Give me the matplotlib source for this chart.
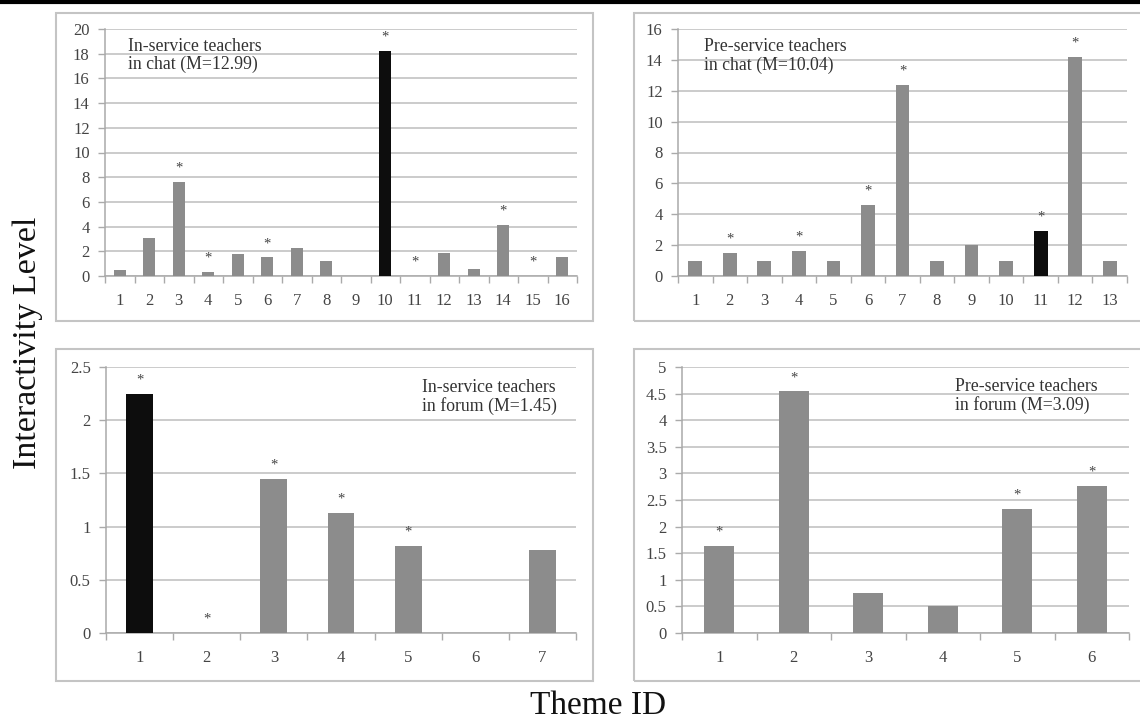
import matplotlib
matplotlib.use("Agg")
import matplotlib.pyplot as plt
from matplotlib.patches import Rectangle
from matplotlib.ticker import FuncFormatter, FixedLocator

# ---- data ----
in_chat_ids = list(range(1, 17))
in_chat_vals = [0.5, 3.1, 7.6, 0.3, 1.75, 1.5, 2.3, 1.2, 0, 18.2, 0, 1.9, 0.6, 4.1, 0, 1.5]
in_chat_star = [3, 4, 6, 10, 11, 14, 15]
in_chat_black = [10]

pre_chat_ids = list(range(1, 14))
pre_chat_vals = [1, 1.5, 1, 1.6, 1, 4.6, 12.4, 1, 2.0, 1, 2.9, 14.2, 1]
pre_chat_star = [2, 4, 6, 7, 11, 12]
pre_chat_black = [11]

in_forum_ids = list(range(1, 8))
in_forum_vals = [2.25, 0, 1.45, 1.13, 0.82, 0, 0.78]
in_forum_star = [1, 2, 3, 4, 5]
in_forum_black = [1]

pre_forum_ids = list(range(1, 7))
pre_forum_vals = [1.63, 4.54, 0.75, 0.51, 2.34, 2.77]
pre_forum_star = [1, 2, 5, 6]
pre_forum_black = []

W, H = 1140, 723
GRAY = "#8c8c8c"
BLACK = "#0d0d0d"
GRID = "#bdbdbd"
SERIF = ["Liberation Serif", "DejaVu Serif"]

plt.rcParams["font.family"] = SERIF

fig = plt.figure(figsize=(W / 100, H / 100), dpi=100)


def px_rect(l, t, r, b):
    return [l / W, 1 - b / H, (r - l) / W, (b - t) / H]


def panel(rect, ids, vals, stars, black, ymax, ystep, label, lx, ly):
    ax = fig.add_axes(px_rect(*rect))
    colors = [BLACK if i in black else GRAY for i in ids]
    ax.bar(ids, vals, width=0.4, color=colors, zorder=3)
    for i, v in zip(ids, vals):
        if i in stars:
            ax.annotate("*", (i, v), xytext=(0, 10), textcoords="offset points",
                        ha="center", va="center", fontsize=10.5, color="#444444")
    ax.set_xlim(0.5, len(ids) + 0.5)
    ax.set_ylim(0, ymax)
    yt = [k * ystep for k in range(int(round(ymax / ystep)) + 1)]
    ax.set_yticks(yt)
    ax.yaxis.set_major_formatter(FuncFormatter(lambda v, p: f"{v:g}"))
    ax.set_xticks(ids)
    ax.set_xticklabels([str(i) for i in ids])
    ax.xaxis.set_minor_locator(FixedLocator([k + 0.5 for k in range(len(ids) + 1)]))
    ax.tick_params(axis="x", which="major", length=0, pad=12,
                   labelsize=12, labelcolor="#444444")
    ax.tick_params(axis="x", which="minor", length=5, color="#aaaaaa", width=1)
    ax.tick_params(axis="y", length=5, color="#aaaaaa", width=1, pad=6,
                   labelsize=12, labelcolor="#444444")
    ax.grid(axis="y", color=GRID, lw=1.1, zorder=0)
    for s in ("top", "right"):
        ax.spines[s].set_visible(False)
    for s in ("left", "bottom"):
        ax.spines[s].set_color("#aaaaaa")
        ax.spines[s].set_linewidth(1.1)
    ax.text(lx, ly, label, ha="left", va="top", fontsize=12.8, color="#333333",
            linespacing=1.1, zorder=4)
    return ax


panel((105, 29, 577, 276), in_chat_ids, in_chat_vals, in_chat_star, in_chat_black,
      20, 2, "In-service teachers\nin chat (M=12.99)", 1.28, 19.3)
panel((678, 29, 1127, 276), pre_chat_ids, pre_chat_vals, pre_chat_star, pre_chat_black,
      16, 2, "Pre-service teachers\nin chat (M=10.04)", 1.25, 15.4)
panel((106, 367, 576, 633), in_forum_ids, in_forum_vals, in_forum_star, in_forum_black,
      2.5, 0.5, "In-service teachers\nin forum (M=1.45)", 5.21, 2.39)
panel((682, 367, 1129, 633), pre_forum_ids, pre_forum_vals, pre_forum_star, pre_forum_black,
      5, 0.5, "Pre-service teachers\nin forum (M=3.09)", 4.17, 4.8)

# panel frames
for l, t, r, b in [(56, 13, 593, 321), (634, 13, 1145, 321),
                   (56, 349, 593, 681), (634, 349, 1145, 681)]:
    fig.add_artist(Rectangle((l / W, 1 - b / H), (r - l) / W, (b - t) / H,
                             transform=fig.transFigure, fill=False,
                             edgecolor="#c4c4c4", lw=1.5))

# thick rule along the top edge
fig.add_artist(plt.Line2D([0, 1], [1 - 1.5 / H, 1 - 1.5 / H], transform=fig.transFigure,
                          color="black", lw=3))

fig.text(28 / W, 1 - 343 / H, "Interactivity Level", rotation=90, ha="center",
         va="center", fontsize=24.5, color="#111111")
fig.text(598 / W, 1 - 706 / H, "Theme ID", ha="center", va="center",
         fontsize=24, color="#111111")

fig.savefig("out.png", dpi=100)
